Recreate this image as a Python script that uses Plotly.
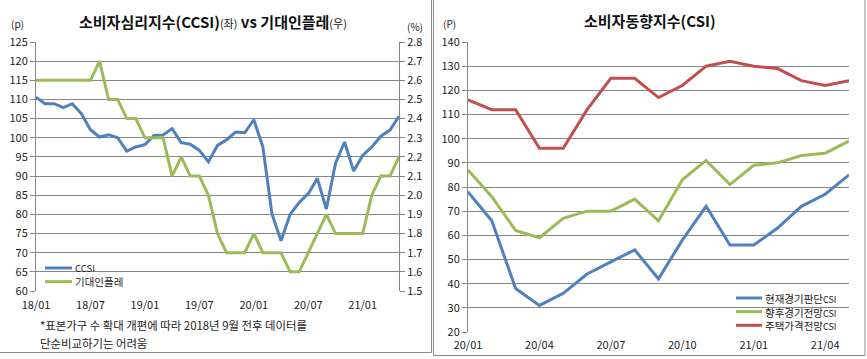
import plotly.graph_objects as go

# ---------------- data ----------------
months_left = [f"{y:02d}/{m:02d}" for y in (18, 19, 20, 21) for m in range(1, 13)][:41]
ccsi = [110.6, 108.9, 108.9, 107.9, 108.9, 106.3, 102.1, 100.2, 100.8, 100.0,
        96.5, 97.6, 98.2, 100.6, 100.7, 102.4, 98.7, 98.3, 96.7, 93.7,
        98.0, 99.5, 101.5, 101.3, 104.7, 97.6, 80.1, 73.1, 80.0, 83.1,
        85.4, 89.4, 81.4, 93.3, 98.9, 91.3, 95.4, 97.6, 100.4, 102.0, 105.6]
infl = [2.6, 2.6, 2.6, 2.6, 2.6, 2.6, 2.6, 2.7, 2.5, 2.5,
        2.4, 2.4, 2.3, 2.3, 2.3, 2.1, 2.2, 2.1, 2.1, 2.0,
        1.8, 1.7, 1.7, 1.7, 1.8, 1.7, 1.7, 1.7, 1.6, 1.6,
        1.7, 1.8, 1.9, 1.8, 1.8, 1.8, 1.8, 2.0, 2.1, 2.1, 2.2]
left_ticks = ["18/01", "18/07", "19/01", "19/07", "20/01", "20/07", "21/01"]

months_right = [f"{y:02d}/{m:02d}" for y in (20, 21) for m in range(1, 13)][:17]
cur_csi = [78, 66, 38, 31, 36, 44, 49, 54, 42, 58, 72, 56, 56, 63, 72, 77, 85]
fut_csi = [87, 76, 62, 59, 67, 70, 70, 75, 66, 83, 91, 81, 89, 90, 93, 94, 99]
house_csi = [116, 112, 112, 96, 96, 112, 125, 125, 117, 122, 130, 132, 130, 129, 124, 122, 124]
right_ticks = ["20/01", "20/04", "20/07", "20/10", "21/01", "21/04"]

BLUE = "#4F81BD"
GREEN = "#9BBB59"
RED = "#C0504D"
GRID = "#868686"
FONT = "Noto Sans CJK KR"
W, H = 867, 359

def px(x):
    return x / W

def py(y):
    return 1 - y / H

fig = go.Figure()
fig.add_trace(go.Scatter(x=months_left, y=ccsi, mode="lines", name="CCSI",
                         line=dict(color=BLUE, width=3), xaxis="x", yaxis="y"))
fig.add_trace(go.Scatter(x=months_left, y=infl, mode="lines", name="기대인플레",
                         line=dict(color=GREEN, width=3), xaxis="x", yaxis="y2"))
fig.add_trace(go.Scatter(x=months_right, y=cur_csi, mode="lines", name="현재경기판단CSI",
                         line=dict(color=BLUE, width=3), xaxis="x3", yaxis="y3"))
fig.add_trace(go.Scatter(x=months_right, y=fut_csi, mode="lines", name="향후경기전망CSI",
                         line=dict(color=GREEN, width=3), xaxis="x3", yaxis="y3"))
fig.add_trace(go.Scatter(x=months_right, y=house_csi, mode="lines", name="주택가격전망CSI",
                         line=dict(color=RED, width=3), xaxis="x3", yaxis="y3"))

tickfont = dict(family=FONT, size=11, color="#222")
L_DOM = [px(36), px(399)]
R_DOM = [px(468), px(849)]

fig.update_layout(
    template="none",
    width=W, height=H, margin=dict(l=0, r=0, t=0, b=0, pad=0),
    paper_bgcolor="white", plot_bgcolor="white", showlegend=False,
    font=dict(family=FONT, color="#222"),
    xaxis=dict(domain=L_DOM, type="category", range=[0, len(months_left) - 1],
               tickvals=left_ticks, ticktext=left_ticks, showgrid=False,
               showline=False, ticks="", tickfont=tickfont, anchor="y",
               automargin=False, zeroline=False, ticklabelstandoff=6),
    yaxis=dict(domain=[py(291), py(42)], range=[60, 125], dtick=5,
               showgrid=True, gridcolor=GRID, gridwidth=1, zeroline=False,
               showline=True, linecolor=GRID, linewidth=1, ticks="outside",
               ticklen=5, tickcolor=GRID, tickfont=tickfont, anchor="x",
               automargin=False),
    yaxis2=dict(overlaying="y", side="right", range=[1.5, 2.8], dtick=0.1,
                tickformat=".1f", showgrid=False, zeroline=False,
                showline=True, linecolor=GRID, linewidth=1, ticks="outside",
                ticklen=5, tickcolor=GRID, tickfont=tickfont, anchor="x",
                automargin=False),
    xaxis3=dict(domain=R_DOM, type="category", range=[0, len(months_right) - 1],
                tickvals=right_ticks, ticktext=right_ticks, showgrid=False,
                showline=False, ticks="", tickfont=tickfont, anchor="y3",
                automargin=False, zeroline=False, ticklabelstandoff=5),
    yaxis3=dict(domain=[py(332), py(42)], range=[20, 140], dtick=10,
                showgrid=True, gridcolor=GRID, gridwidth=1, zeroline=False,
                showline=True, linecolor=GRID, linewidth=1, ticks="outside",
                ticklen=5, tickcolor=GRID, tickfont=tickfont, anchor="x3",
                automargin=False),
)

shapes = []
# panel borders
shapes.append(dict(type="rect", xref="paper", yref="paper", x0=px(-2), x1=px(431.5),
                   y0=py(352.5), y1=py(-2), line=dict(color="#8c8c8c", width=1)))
shapes.append(dict(type="rect", xref="paper", yref="paper", x0=px(433.5), x1=px(865),
                   y0=py(355.5), y1=py(-2), line=dict(color="#8c8c8c", width=1)))

# legend swatches
def swatch(x0, x1, y, color):
    shapes.append(dict(type="line", xref="paper", yref="paper", x0=px(x0), x1=px(x1),
                       y0=py(y), y1=py(y), line=dict(color=color, width=3)))

ann = []
def text(x, y, t, size=11, xanchor="left", color="#222", align="left"):
    ann.append(dict(xref="paper", yref="paper", x=px(x), y=py(y), text=t, showarrow=False,
                    xanchor=xanchor, yanchor="middle", align=align,
                    font=dict(family=FONT, size=size, color=color)))

LEG = 10.5
sp = LEG * 1.3
swatch(45, 72, 268, BLUE)
swatch(45, 72, 268 + sp, GREEN)
text(73, 268 + sp / 2,
     "<span style='font-size:9.5px'>CCSI</span><br>기대인플레", LEG)

swatch(736, 762, 298, BLUE)
swatch(736, 762, 298 + sp, GREEN)
swatch(736, 762, 298 + 2 * sp, RED)
text(763, 298 + sp,
     "현재경기판단<span style='font-size:9px'>CSI</span><br>"
     "향후경기전망<span style='font-size:9px'>CSI</span><br>"
     "주택가격전망<span style='font-size:9px'>CSI</span>", LEG)

# titles
text(213, 22, "<b>소비자심리지수(CCSI)</b><span style='font-size:11px'>(좌)</span>"
     "<b> vs 기대인플레</b><span style='font-size:11px'>(우)</span>", 15, xanchor="center", color="#111")
text(650, 20, "<b>소비자동향지수(CSI)</b>", 15, xanchor="center", color="#111")

# unit labels
text(17, 24, "(p)", 10, xanchor="center")
text(415, 26, "(%)", 10, xanchor="center")
text(449, 24, "(P)", 10, xanchor="center")

# footnote
text(38, 325, "*표본가구 수 확대 개편에 따라 2018년 9월 전후 데이터를", 11.4)
text(38, 343, "단순비교하기는 어려움", 11.4)

fig.update_layout(shapes=shapes, annotations=ann)
fig.write_html("out.html", config={"displayModeBar": False},
               post_script="document.body.style.margin='0';document.body.style.padding='0';")
